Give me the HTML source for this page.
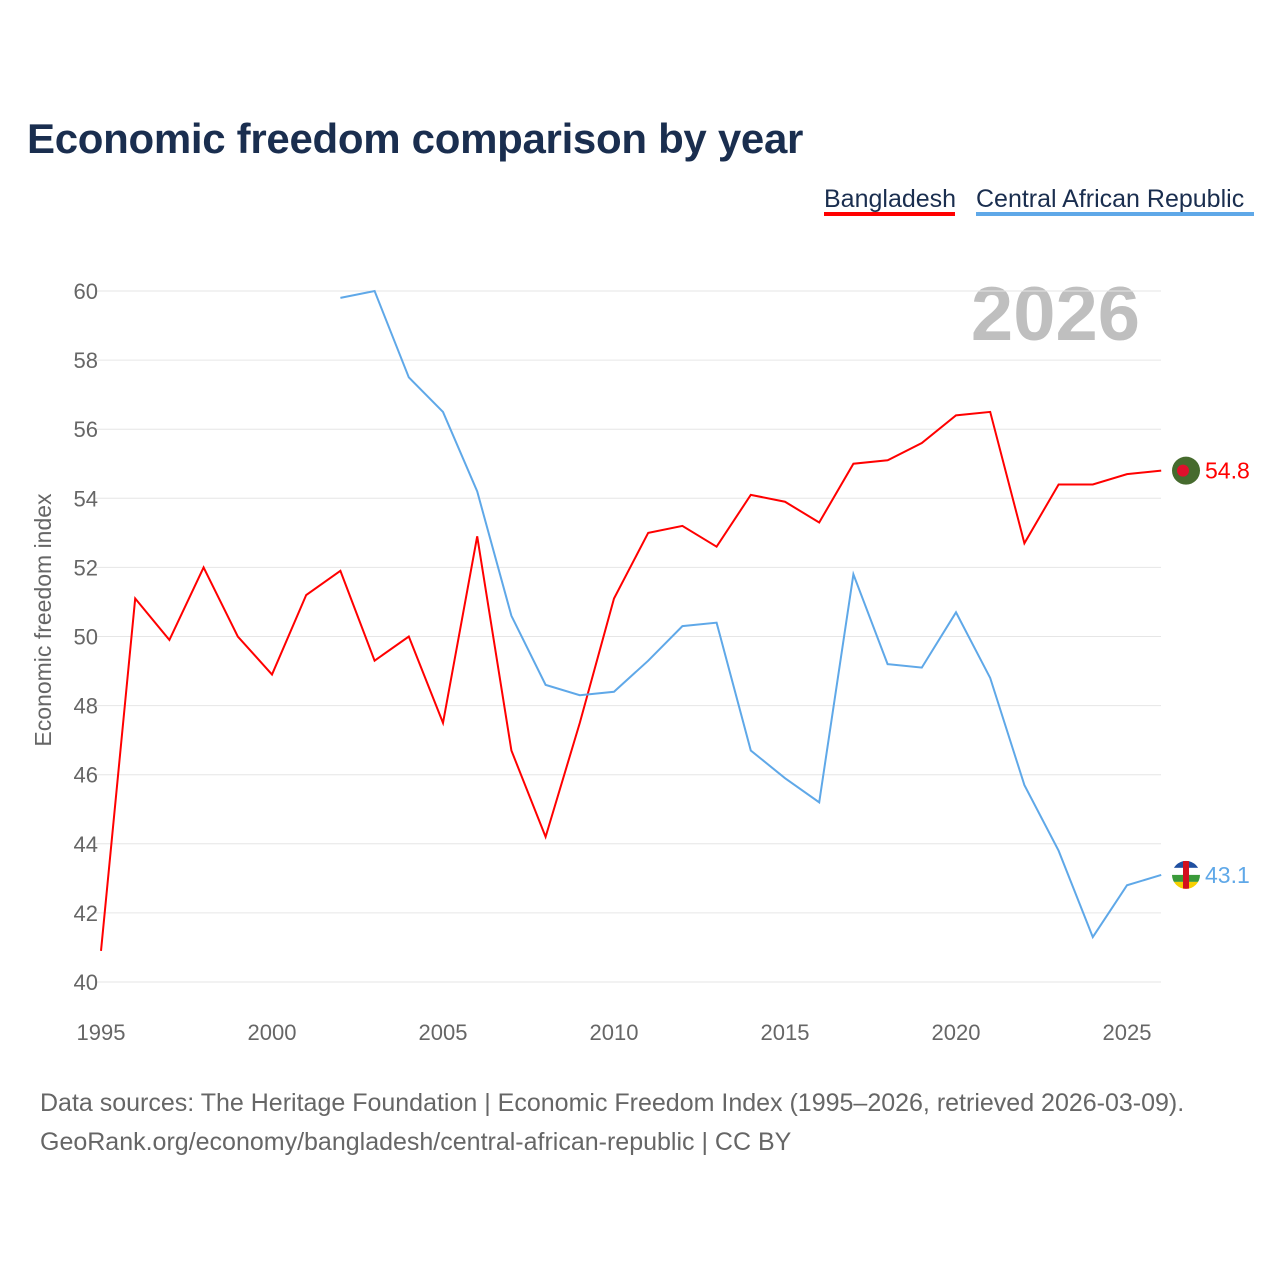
<!DOCTYPE html>
<html><head><meta charset="utf-8"><style>
body{margin:0;background:#fff;font-family:"Liberation Sans",sans-serif}
#wrap{position:relative;width:1280px;height:1280px;overflow:hidden}
</style></head><body>
<div id="wrap">
<svg id="chart" width="1280" height="1280" xmlns="http://www.w3.org/2000/svg">
<defs><clipPath id="cc"><circle cx="1186" cy="874" r="14"/></clipPath></defs>
<text x="27" y="153" font-size="42" font-weight="bold" fill="#1a2e4f" letter-spacing="-0.3">Economic freedom comparison by year</text>
<g>
<text x="824" y="207" font-size="25" fill="#1a2e4f">Bangladesh</text>
<rect x="824" y="212" width="131" height="4" fill="#ff0000"/></g>
<g>
<text x="976" y="207" font-size="25" fill="#1a2e4f">Central African Republic</text>
<rect x="976" y="212" width="278" height="4" fill="#5fa8e8"/></g>
<text x="1140" y="340" font-size="76" font-weight="bold" fill="#bfbfbf" text-anchor="end">2026</text>
<text transform="translate(51,620) rotate(-90)" font-size="23" fill="#666" text-anchor="middle">Economic freedom index</text>
<g id="grid"></g><g id="series"></g>
<text x="40" y="1111" font-size="25" fill="#666">Data sources: The Heritage Foundation | Economic Freedom Index (1995–2026, retrieved 2026-03-09).</text>
<text x="40" y="1150" font-size="25" fill="#666">GeoRank.org/economy/bangladesh/central-african-republic | CC BY</text>
</svg></div>
<script>
const years=[1995,1996,1997,1998,1999,2000,2001,2002,2003,2004,2005,2006,2007,2008,2009,2010,2011,2012,2013,2014,2015,2016,2017,2018,2019,2020,2021,2022,2023,2024,2025,2026];
const bangladesh=[40.9,51.1,49.9,52.0,50.0,48.9,51.2,51.9,49.3,50.0,47.5,52.9,46.7,44.2,47.5,51.1,53.0,53.2,52.6,54.1,53.9,53.3,55.0,55.1,55.6,56.4,56.5,52.7,54.4,54.4,54.7,54.8];
const car=[null,null,null,null,null,null,null,59.8,60.0,57.5,56.5,54.2,50.6,48.6,48.3,48.4,49.3,50.3,50.4,46.7,45.9,45.2,51.8,49.2,49.1,50.7,48.8,45.7,43.8,41.3,42.8,43.1];
const yTicks=[40,42,44,46,48,50,52,54,56,58,60];
const xTicks=[1995,2000,2005,2010,2015,2020,2025];
const NS="http://www.w3.org/2000/svg";
const X=y=>101+(y-1995)*34.2, Y=v=>982-(v-40)*34.55;
function mk(t,a,p){const e=document.createElementNS(NS,t);for(const k in a)e.setAttribute(k,a[k]);p.appendChild(e);return e;}
const g=document.getElementById('grid'),s=document.getElementById('series');
yTicks.forEach(v=>{const l=mk('line',{x1:95,x2:1161,y1:Y(v),y2:Y(v),stroke:'#e6e6e6'},g);


const t=mk('text',{x:98,y:Y(v)+8,'font-size':22,fill:'#666','text-anchor':'end'},g);t.textContent=v;

});
xTicks.forEach(v=>{const t=mk('text',{x:X(v),y:1040,'font-size':22,fill:'#666','text-anchor':'middle'},g);t.textContent=v;

});
function line(d,c,name){let p='';d.forEach((v,i)=>{if(v==null)return;p+=(p?'L':'M')+X(years[i])+','+Y(v);});
const e=mk('path',{d:p,fill:'none',stroke:c,'stroke-width':2},s);

}
line(bangladesh,'#ff0000','bangladesh-line');line(car,'#5fa8e8','car-line');
const lb=bangladesh[bangladesh.length-1],lc=car[car.length-1];
const f1=mk('g',{},s);
mk('circle',{cx:1186,cy:Y(lb),r:14,fill:'#466b2e'},f1);mk('circle',{cx:1183,cy:Y(lb),r:6,fill:'#e0102c'},f1);
const t1=mk('text',{x:1205,y:Y(lb)+8,'font-size':23,fill:'#ff0000'},s);t1.textContent=lb.toFixed(1);

const cy=Y(lc);
const f2=mk('g',{'clip-path':'url(#cc)',transform:'translate(0,'+(cy-874)+')'},s);
[['#1f4fa0',-14],['#fff',-7],['#3a9a3a',0],['#f6d000',7]].forEach(([c,o])=>mk('rect',{x:1172,y:874+o,width:28,height:7,fill:c},f2));
mk('rect',{x:1183,y:860,width:6,height:28,fill:'#d2101e'},f2);
const t2=mk('text',{x:1205,y:cy+8,'font-size':23,fill:'#5fa8e8'},s);t2.textContent=lc.toFixed(1);

</script></body></html>
